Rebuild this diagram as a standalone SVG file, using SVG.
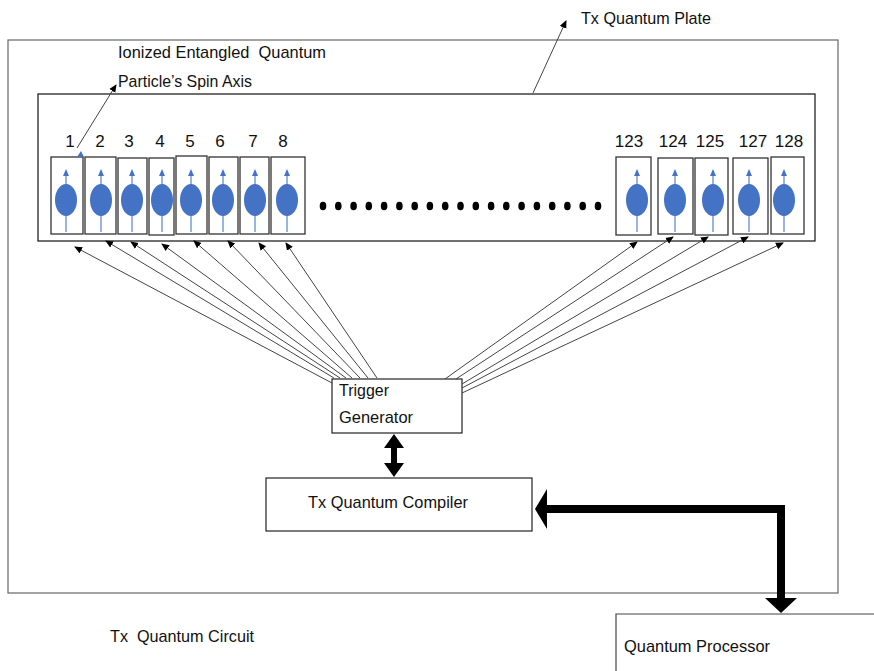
<svg xmlns="http://www.w3.org/2000/svg" width="874" height="671" viewBox="0 0 874 671">
<style>
text{font-family:"Liberation Sans",Arial,sans-serif;fill:#111;font-size:17px;white-space:pre}
.box{fill:#fff;stroke:#222;stroke-width:1.2}
.cell{fill:#fff;stroke:#333;stroke-width:1.3}
.ell{fill:#4472c4}
.axis{stroke:#7fa2dc;stroke-width:1.6;fill:none}
.fan{stroke:#444;stroke-width:1;fill:none;marker-end:url(#ah)}
.thick{fill:#000}
</style>
<defs>
<marker id="ah" markerWidth="8" markerHeight="8" refX="7" refY="4" orient="auto" markerUnits="userSpaceOnUse">
<path d="M0,0.5 L8,4 L0,7.5 Z" fill="#000"/>
</marker>
<g id="spin">
<line class="axis" x1="0" y1="-25" x2="0" y2="32"/>
<path d="M0,-31 L3,-24 L-3,-24 Z" fill="#4472c4"/>
<ellipse class="ell" cx="0" cy="0" rx="11" ry="16"/>
</g>
</defs>

<g id="circuit">
<rect x="8" y="40" width="830" height="553" fill="#fff" stroke="#666" stroke-width="1.2"/>
</g>
<g id="plate">
<rect x="38" y="94" width="777" height="147" fill="#fff" stroke="#111" stroke-width="1.2"/>
</g>

<g id="cells">
<g id="cell1"><rect class="cell" x="51" y="157" width="32" height="77"/><use href="#spin" x="66" y="200"/><text x="70" y="147" text-anchor="middle">1</text></g>
<g id="cell2"><rect class="cell" x="85" y="157" width="31" height="77"/><use href="#spin" x="101" y="200"/><text x="100" y="147" text-anchor="middle">2</text></g>
<g id="cell3"><rect class="cell" x="118" y="158" width="29" height="76"/><use href="#spin" x="132" y="200"/><text x="129" y="147" text-anchor="middle">3</text></g>
<g id="cell4"><rect class="cell" x="149" y="158" width="25" height="77"/><use href="#spin" x="162" y="200"/><text x="160" y="147" text-anchor="middle">4</text></g>
<g id="cell5"><rect class="cell" x="176" y="156" width="31" height="78"/><use href="#spin" x="191" y="200"/><text x="190" y="147" text-anchor="middle">5</text></g>
<g id="cell6"><rect class="cell" x="209" y="157" width="29" height="77"/><use href="#spin" x="223" y="200"/><text x="220" y="147" text-anchor="middle">6</text></g>
<g id="cell7"><rect class="cell" x="240" y="157" width="29" height="77"/><use href="#spin" x="255" y="200"/><text x="253" y="147" text-anchor="middle">7</text></g>
<g id="cell8"><rect class="cell" x="271" y="157" width="34" height="77"/><use href="#spin" x="287" y="200"/><text x="283" y="147" text-anchor="middle">8</text></g>
<g id="cell123"><rect class="cell" x="616" y="157" width="35" height="78"/><use href="#spin" x="637" y="200"/><text x="629" y="147" text-anchor="middle">123</text></g>
<g id="cell124"><rect class="cell" x="658" y="158" width="35" height="76"/><use href="#spin" x="675" y="200"/><text x="673" y="147" text-anchor="middle">124</text></g>
<g id="cell125"><rect class="cell" x="695" y="158" width="33" height="77"/><use href="#spin" x="713" y="200"/><text x="710" y="147" text-anchor="middle">125</text></g>
<g id="cell127"><rect class="cell" x="733" y="158" width="35" height="76"/><use href="#spin" x="749" y="200"/><text x="753" y="147" text-anchor="middle">127</text></g>
<g id="cell128"><rect class="cell" x="771" y="157" width="33" height="77"/><use href="#spin" x="784" y="200"/><text x="789" y="147" text-anchor="middle">128</text></g>
</g>

<g id="dots" fill="#000">
<ellipse cx="323" cy="206" rx="3.3" ry="4.3"/><ellipse cx="338.3" cy="206" rx="3.3" ry="4.3"/><ellipse cx="353.6" cy="206" rx="3.3" ry="4.3"/><ellipse cx="368.8" cy="206" rx="3.3" ry="4.3"/><ellipse cx="384.1" cy="206" rx="3.3" ry="4.3"/><ellipse cx="399.4" cy="206" rx="3.3" ry="4.3"/><ellipse cx="414.7" cy="206" rx="3.3" ry="4.3"/><ellipse cx="429.9" cy="206" rx="3.3" ry="4.3"/><ellipse cx="445.2" cy="206" rx="3.3" ry="4.3"/><ellipse cx="460.5" cy="206" rx="3.3" ry="4.3"/><ellipse cx="475.8" cy="206" rx="3.3" ry="4.3"/><ellipse cx="491.1" cy="206" rx="3.3" ry="4.3"/><ellipse cx="506.3" cy="206" rx="3.3" ry="4.3"/><ellipse cx="521.6" cy="206" rx="3.3" ry="4.3"/><ellipse cx="536.9" cy="206" rx="3.3" ry="4.3"/><ellipse cx="552.2" cy="206" rx="3.3" ry="4.3"/><ellipse cx="567.4" cy="206" rx="3.3" ry="4.3"/><ellipse cx="582.7" cy="206" rx="3.3" ry="4.3"/><ellipse cx="598" cy="206" rx="3.3" ry="4.3"/>
</g>

<g id="trigger">
<rect class="box" x="332" y="379" width="130" height="54"/>
<text x="339" y="396" textLength="50" lengthAdjust="spacingAndGlyphs">Trigger</text>
<text x="339" y="423" textLength="74" lengthAdjust="spacingAndGlyphs">Generator</text>
</g>
<g id="compiler">
<rect class="box" x="266" y="478" width="266" height="53"/>
<text x="308" y="508" textLength="160" lengthAdjust="spacingAndGlyphs">Tx Quantum Compiler</text>
</g>
<g id="processor">
<path d="M616,671 V614 H874" fill="none" stroke="#444" stroke-width="1.2"/>
<text x="624" y="652" textLength="146" lengthAdjust="spacingAndGlyphs">Quantum Processor</text>
</g>

<g id="labels">
<text x="118" y="58" textLength="208" lengthAdjust="spacingAndGlyphs">Ionized Entangled  Quantum</text>
<text x="118" y="87" textLength="134" lengthAdjust="spacingAndGlyphs">Particle’s Spin Axis</text>
<text x="581" y="24" textLength="130" lengthAdjust="spacingAndGlyphs">Tx Quantum Plate</text>
<text x="110" y="642" textLength="144" lengthAdjust="spacingAndGlyphs">Tx  Quantum Circuit</text>
</g>

<g id="connectors">
<line class="fan" x1="332" y1="383" x2="75" y2="247"/>
<line class="fan" x1="334" y1="378" x2="106" y2="241"/>
<line class="fan" x1="340" y1="378" x2="131" y2="242"/>
<line class="fan" x1="346" y1="378" x2="162" y2="244"/>
<line class="fan" x1="352" y1="378" x2="194" y2="241"/>
<line class="fan" x1="360" y1="378" x2="228" y2="241"/>
<line class="fan" x1="368" y1="378" x2="259" y2="243"/>
<line class="fan" x1="377" y1="378" x2="286" y2="243"/>
<line class="fan" x1="445" y1="379" x2="637" y2="242"/>
<line class="fan" x1="456" y1="379" x2="673" y2="237"/>
<line class="fan" x1="462" y1="384" x2="708" y2="237"/>
<line class="fan" x1="462" y1="388" x2="748" y2="237"/>
<line class="fan" x1="462" y1="393" x2="783" y2="243"/>
<line class="fan" x1="77" y1="148" x2="116" y2="85"/>
<line class="fan" x1="533" y1="93" x2="566" y2="21"/>
<path d="M81,151 L84,157 L77,157 Z" fill="#4472c4"/>
<path class="thick" d="M394,434 L404,448 L397,448 L397,463 L404,463 L394,477 L384,463 L391,463 L391,448 L384,448 Z"/>
<path class="thick" d="M535,509 L547,489 L547,505 L785,505 L785,598 L797,598 L781,613 L765,598 L777,598 L777,513 L547,513 L547,529 Z"/>
</g>
</svg>
